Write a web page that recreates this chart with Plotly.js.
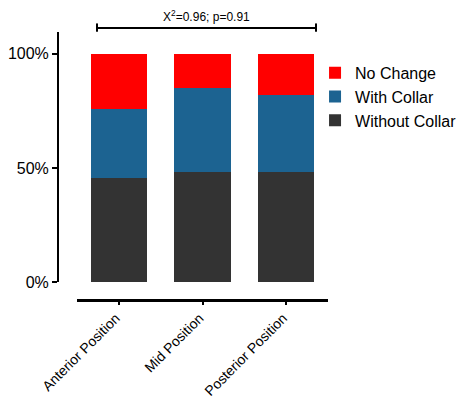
<!DOCTYPE html>
<html>
<head>
<meta charset="utf-8">
<script src="https://cdn.plot.ly/plotly-3.0.1.min.js"></script>
<style>html,body{margin:0;padding:0;background:#fff;}#chart{width:460px;height:399px;}</style>
</head>
<body>
<div id="chart"></div>
<script>
// Data (percent of cases)
const categories = ["Anterior Position", "Mid Position", "Posterior Position"];
const withoutCollar = [45.5, 48.4, 48.4];
const withCollar = [30.5, 36.5, 33.5];
const noChange = [24.0, 15.1, 18.1];
const seriesNames = ["Without Collar", "With Collar", "No Change"];
const seriesColors = ["#333333", "#1C6391", "#FF0000"];
const yTickVals = [0, 50, 100];
const yTickText = ["0%", "50%", "100%"];
const chiSquare = 0.96;
const pValue = 0.91;

const FONT = "Liberation Sans, Arial, sans-serif";
const seriesValues = [withoutCollar, withCollar, noChange];

const traces = seriesValues.map((vals, i) => ({
  type: "bar",
  name: seriesNames[i],
  x: categories,
  y: vals,
  marker: { color: seriesColors[i], line: { width: 0 } },
  hoverinfo: "none"
}));

const layout = {
  width: 460,
  height: 399,
  margin: { l: 58, r: 132, t: 32, b: 99, autoexpand: false },
  paper_bgcolor: "#fff",
  plot_bgcolor: "#fff",
  barmode: "stack",
  bargap: 0.33,
  showlegend: true,
  font: { family: FONT, color: "#000", size: 16 },
  legend: {
    x: 0.952, xanchor: "left",
    y: 0.911, yanchor: "top",
    traceorder: "reversed",
    font: { family: FONT, size: 16, color: "#000" },
    bgcolor: "rgba(0,0,0,0)",
    borderwidth: 0
  },
  xaxis: {
    domain: [0.0704, 1],
    range: [-0.5, 2.5],
    anchor: "free",
    position: 0,
    automargin: false,
    showline: true,
    linecolor: "#000",
    linewidth: 2.5,
    ticks: "outside",
    ticklen: 3,
    tickwidth: 2,
    tickcolor: "#000",
    tickangle: -45,
    ticklabelshift: -3,
    tickfont: { family: FONT, size: 14, color: "#000" },
    showgrid: false,
    zeroline: false,
    fixedrange: true
  },
  yaxis: {
    domain: [0.066, 1],
    range: [0, 109.5],
    anchor: "free",
    position: 0,
    automargin: false,
    showline: true,
    linecolor: "#000",
    linewidth: 2,
    ticks: "outside",
    ticklen: 5,
    tickwidth: 2,
    tickcolor: "#000",
    tickvals: yTickVals,
    ticktext: yTickText,
    tickfont: { family: FONT, size: 16, color: "#000" },
    showgrid: false,
    zeroline: false,
    fixedrange: true
  },
  shapes: [
    { type: "line", xref: "paper", yref: "paper", x0: 0.1444, x1: 0.9556, y0: 1.015, y1: 1.015, line: { color: "#000", width: 2 } },
    { type: "line", xref: "paper", yref: "paper", x0: 0.1444, x1: 0.1444, y0: 1.001, y1: 1.032, line: { color: "#000", width: 2 } },
    { type: "line", xref: "paper", yref: "paper", x0: 0.9556, x1: 0.9556, y0: 1.001, y1: 1.032, line: { color: "#000", width: 2 } }
  ],
  annotations: [
    {
      xref: "paper", yref: "paper",
      x: 0.55, y: 1.06,
      xanchor: "center", yanchor: "middle",
      showarrow: false,
      text: "X<sup>2</sup>=" + chiSquare.toFixed(2) + "; p=" + pValue.toFixed(2),
      font: { family: FONT, size: 12, color: "#000" }
    }
  ]
};

Plotly.newPlot("chart", traces, layout, { staticPlot: true, displayModeBar: false });
</script>
</body>
</html>
